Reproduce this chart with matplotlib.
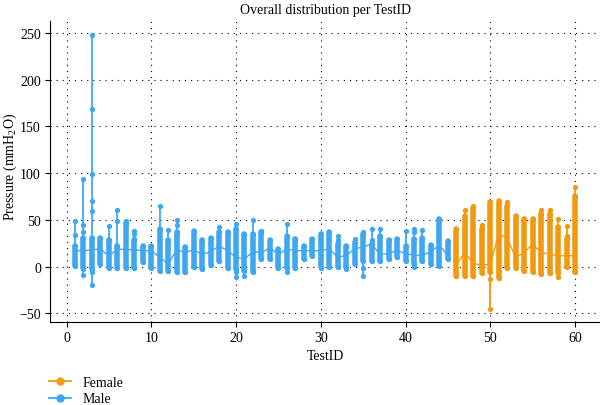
import matplotlib
matplotlib.use("Agg")
import matplotlib.pyplot as plt
from matplotlib.lines import Line2D

plt.rcParams['font.family'] = ['Liberation Serif', 'DejaVu Serif']
plt.rcParams['mathtext.fontset'] = 'custom'
plt.rcParams['mathtext.rm'] = 'Liberation Serif'
plt.rcParams['mathtext.default'] = 'regular'

test_ids = list(range(1, 61))
sex = ['Male'] * 45 + ['Female'] * 15

# dense (thick) range low / high per TestID
dense_low = [1, -1, -2.6, 3, -2, -2, -2, -2, 4.6, -1,
             -4.4, -4.4, -6, -5.4, 0, -2.6, 1.7, 6.4, -1, -2.6,
             -4.4, -5.4, 8, 8, -1, -1, -1, 8, 11.7, 0,
             0, 0, 0, 3, 6.4, 6.4, 6.4, 8, 10, 6.4,
             2.8, 6.4, 2.8, 1, 8, -9.7, -9.7, -9.7, -7, -6,
             -12.5, -1, -2, -4.4, -5.4, -8, -7, -7, 0, -5.4]
dense_high = [22, 31, 31, 31, 28, 22, 47, 28, 22, 22,
              40, 28, 37, 20.6, 38.5, 28, 31, 37, 37, 40,
              35, 35, 37, 28, 19, 33, 29.6, 22, 29.6, 35,
              37, 24, 22, 26, 35, 24, 33, 28, 29.6, 22,
              29.5, 31, 23, 51, 27.7, 40, 54.5, 63, 40, 68.7,
              70.5, 65, 54.5, 51, 51, 56, 56, 42, 29.6, 75.9]
# isolated readings outside the dense range
extra_points = [[34, 48.5], [37, 44, 94, -2.6, -8.7], [59, 70, 99, 169, 248, -6, -20], [], [43],
                [49, 60], [49], [30, 35, 38], [], [],
                [65], [39.5], [44, 50], [], [],
                [], [], [42], [], [45.6, -6, -11],
                [-9.7], [50], [38.5], [], [],
                [45.6, -5.4], [], [], [], [-1],
                [], [28, 33], [-3], [29.6], [37, -1, -9.7],
                [28, 40], [40], [], [], [38.5],
                [36.6, 40, -0.8], [39.5], [], [], [],
                [], [60], [65], [44.5], [-13, -45.4],
                [], [69.5], [], [], [],
                [60], [60], [51, -11.5], [33, 43.8], [84.9]]
center = [17, 17, 18, 19, 11, 19, 18, 18, 17, 17,
          10, 3, 18, 15, 18, 13, 16, 22, 17, 10,
          8, 16, 15, 20, 13, 19, 17, 17, 17, 17,
          19, 10, 12, 19, 21, 24, 13, 14, 17, 14,
          12, 12, 16, 23, 12, 2, 15, 3, 2, 2,
          35, 30, 10, 15, 24, 15, 13.5, 11.6, 11.6, 11.6]

colors = {'Male': '#3FA7F2', 'Female': '#F2990F'}

fig = plt.figure(figsize=(6.0, 4.06), dpi=100)
ax = fig.add_axes([50/600, (406-323.4)/406, 550/600, (323.4-22)/406])

for grp in ['Male', 'Female']:
    c = colors[grp]
    idx = [i for i, s in enumerate(sex) if s == grp]
    for i in idx:
        x = test_ids[i]
        vals = [dense_low[i], dense_high[i]] + extra_points[i]
        ax.plot([x, x], [min(vals), max(vals)], color=c, lw=1.3, zorder=3)
        ax.plot([x, x], [dense_low[i], dense_high[i]], color=c, lw=4.0,
                solid_capstyle='round', zorder=3)
        ax.plot([x] * len(vals), vals, 'o', color=c, ms=3.8, mec='none', zorder=4)
    ax.plot([test_ids[i] for i in idx], [center[i] for i in idx], color=c, lw=1.0, zorder=2)

ax.set_xlim(-1.95, 62.95)
ax.set_ylim(-59.7, 262.7)
ax.set_xticks([0, 10, 20, 30, 40, 50, 60])
ax.set_yticks([-50, 0, 50, 100, 150, 200, 250])
ax.grid(True, color='black', linestyle=(0, (1, 4.5)), lw=0.8)
ax.set_axisbelow(True)
for s in ['top', 'right']:
    ax.spines[s].set_visible(False)
ax.tick_params(direction='out', length=3.5, pad=3, labelsize=10, colors='black')
ax.set_xlabel('TestID', fontsize=10, labelpad=3)
ax.set_ylabel('Pressure (mmH$_2$O)', fontsize=10)
ax.yaxis.set_label_coords(-0.056, 0.52)
ax.set_title('Overall distribution per TestID', fontsize=10, pad=6)

handles = [Line2D([0], [0], color=colors['Female'], marker='o', ms=5, lw=1.3),
           Line2D([0], [0], color=colors['Male'], marker='o', ms=5, lw=1.3)]
fig.legend(handles, ['Female', 'Male'], loc='upper left', bbox_to_anchor=(49/600, (406-377)/406),
           frameon=False, fontsize=10, handlelength=1.6, handletextpad=0.8, labelspacing=0.25,
           borderpad=0, borderaxespad=0)

fig.savefig('out.png', dpi=100)
